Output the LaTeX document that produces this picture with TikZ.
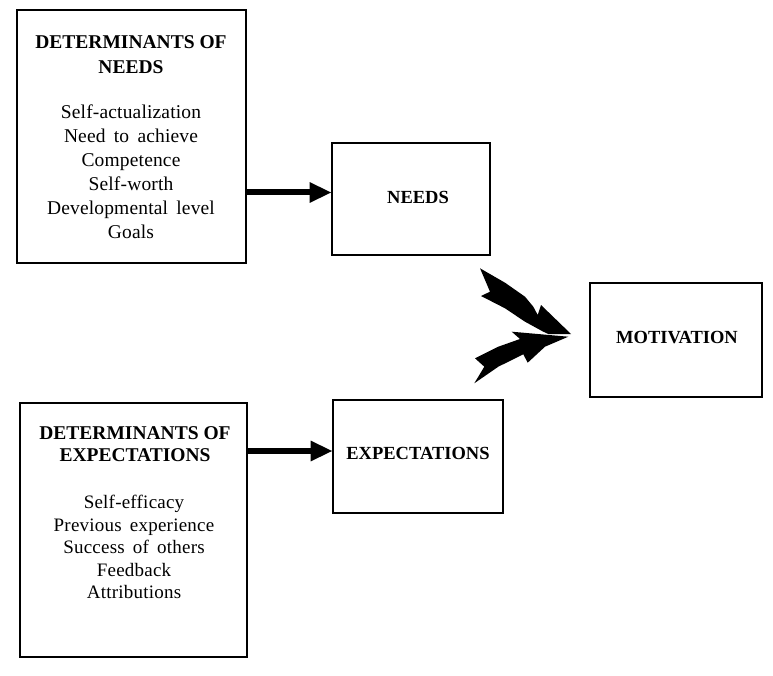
\documentclass[tikz,border=0pt]{standalone}
\usepackage{fontspec}
\setmainfont{Liberation Serif}
\usetikzlibrary{arrows.meta}
\tikzset{
  boxnode/.style={draw=black, line width=2.6pt, fill=white, inner sep=0pt},
  headtext/.style={align=center, font=\fontsize{19.5}{24}\selectfont\bfseries, inner sep=0pt},
  itemtext/.style={align=center, inner sep=0pt},
  wordtext/.style={font=\fontsize{18.5}{22}\selectfont\bfseries, inner sep=0pt},
  thickarrow/.style={line width=6pt, -{Triangle[length=22pt,width=19pt]}, shorten >=-1pt},
}
\begin{document}
\begin{tikzpicture}[x=1pt,y=-1pt]
\useasboundingbox (0,0) rectangle (773,676);
% boxes
\node[boxnode, minimum width=229pt, minimum height=253pt] (b1) at (131.5,136.5) {};
\node[boxnode, minimum width=158pt, minimum height=112pt] (needs) at (411,199) {};
\node[boxnode, minimum width=172pt, minimum height=114pt] (mot) at (676,340) {};
\node[boxnode, minimum width=170pt, minimum height=113pt] (exp) at (418,456.5) {};
\node[boxnode, minimum width=227pt, minimum height=254pt] (b2) at (133.5,530) {};
% texts
\node[headtext, font=\fontsize{19.5}{25}\selectfont\bfseries] (h1) at (131,54.5) {DETERMINANTS OF\\NEEDS};
\node[itemtext, font=\fontsize{19.5}{24}\selectfont\addfontfeature{LetterSpace=0.8}] (l1) at (131,172) {Self-actualization\\Need\, to\, achieve\\Competence\\Self-worth\\Developmental\, level\\Goals};
\node[headtext, font=\fontsize{19.5}{22}\selectfont\bfseries] (h2) at (135,444) {DETERMINANTS OF\\EXPECTATIONS};
\node[itemtext, font=\fontsize{19}{22.5}\selectfont\addfontfeature{LetterSpace=1.2}] (l2) at (134,547) {Self-efficacy\\Previous\, experience\\Success\, of\, others\\Feedback\\Attributions};
\node[wordtext] (tn) at (418,197) {NEEDS};
\node[wordtext] (tm) at (677,338) {MOTIVATION};
\node[wordtext] (te) at (418,453) {EXPECTATIONS};
% straight arrows
\coordinate (n1) at ([yshift=6.5pt]needs.west);
\coordinate (e1) at ([yshift=5.5pt]exp.west);
\draw[thickarrow] (b1.east |- n1) -- (n1);
\draw[thickarrow] (b2.east |- e1) -- (e1);
% curved arrows toward motivation
\fill[black] (480,268.3) -- (490,291.7) -- (481,296) -- (505,308.3) -- (525,321.7) -- (543.3,331.7)
  -- (548.3,334) -- (571,334) -- (541,305) -- (537.7,315) -- (533.3,306.7) -- (525,296.7)
  -- (505,282.7) -- cycle;
\fill[black] (568.3,336.7) -- (511.7,331.7) -- (520,339) -- (498.3,346.7) -- (475,358.3)
  -- (484.3,366.7) -- (474.3,383.3) -- (498.3,366.7) -- (523.3,354.3) -- (527.7,362.7)
  -- (545,346.7) -- cycle;
\end{tikzpicture}
\end{document}
